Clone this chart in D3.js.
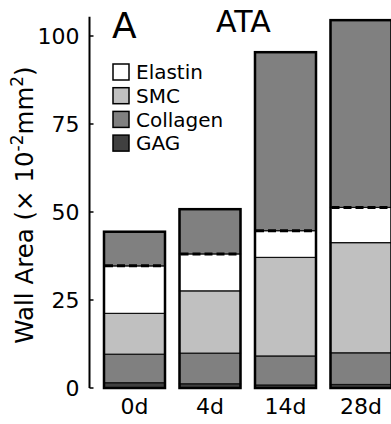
<!DOCTYPE html>
<html>
<head>
<meta charset="utf-8">
<script src="https://cdn.jsdelivr.net/npm/d3@7"></script>
<style>
	body { margin: 0; background: #fff; }
	svg { font-family: "DejaVu Sans", sans-serif; }
</style>
</head>
<body>
<svg id="chart" width="391" height="424"></svg>
<script>
// values (10^-2 mm^2)
const days = ["0d", "4d", "14d", "28d"];
const gag = [1.5, 1.2, 0.85, 1.0];
const collagenMedia = [8.1, 8.7, 8.25, 9.0];
const smc = [11.6, 17.7, 28.0, 31.3];
const elastin = [13.5, 10.5, 7.6, 10.0];
const collagenAdv = [9.7, 12.7, 50.7, 53.2];
const yTicks = [0, 25, 50, 75, 100];

const legendItems = [
	{ name: "Elastin", color: "#ffffff" },
	{ name: "SMC", color: "#c0c0c0" },
	{ name: "Collagen", color: "#808080" },
	{ name: "GAG", color: "#404040" },
];

const layerKeys = ["gag", "colM", "smc", "ela", "colA"];
const layerColor = {
	gag: "#404040",
	colM: "#808080",
	smc: "#c0c0c0",
	ela: "#ffffff",
	colA: "#808080",
};

let rows = days.map((d, i) => ({
	day: d,
	gag: gag[i],
	colM: collagenMedia[i],
	smc: smc[i],
	ela: elastin[i],
	colA: collagenAdv[i],
}));

const svg = d3.select("#chart");

let y = d3.scaleLinear().domain([0, 100]).range([388, 36]);
let x = d3
	.scaleBand()
	.domain(days)
	.range([96.75, 398.75])
	.paddingInner(0.192)
	.paddingOuter(0.096);

let series = d3.stack().keys(layerKeys)(rows);

// segments
series.forEach(function (s) {
	svg.append("g")
		.selectAll("rect")
		.data(s)
		.enter()
		.append("rect")
		.attr("x", (d) => x(d.data.day))
		.attr("y", (d) => y(d[1]))
		.attr("width", x.bandwidth())
		.attr("height", (d) => y(d[0]) - y(d[1]))
		.attr("fill", layerColor[s.key])
		.attr("stroke", "#111")
		.attr("stroke-width", 1.2);
});

// dashed line between elastin and adventitial collagen
let elaSeries = series.find((s) => s.key === "ela");
svg.append("g")
	.selectAll("line")
	.data(elaSeries)
	.enter()
	.append("line")
	.attr("x1", (d) => x(d.data.day) + 1)
	.attr("x2", (d) => x(d.data.day) + x.bandwidth() - 1)
	.attr("y1", (d) => y(d[1]))
	.attr("y2", (d) => y(d[1]))
	.attr("stroke", "#000")
	.attr("stroke-width", 3)
	.attr("stroke-dasharray", "8,4");

// bar outlines
let topSeries = series[series.length - 1];
svg.append("g")
	.selectAll("rect")
	.data(topSeries)
	.enter()
	.append("rect")
	.attr("x", (d) => x(d.data.day))
	.attr("y", (d) => y(d[1]))
	.attr("width", x.bandwidth())
	.attr("height", (d) => y(0) - y(d[1]))
	.attr("fill", "none")
	.attr("stroke", "#000")
	.attr("stroke-width", 2.5);

// y axis
let yAxis = svg.append("g").attr("transform", "translate(89.5,0)");
yAxis.append("line")
	.attr("x1", 0).attr("x2", 0)
	.attr("y1", y(105.5)).attr("y2", y(0))
	.attr("stroke", "#000").attr("stroke-width", 2);
yAxis.selectAll(".tick")
	.data(yTicks)
	.enter()
	.append("line")
	.attr("x1", 0).attr("x2", 4)
	.attr("y1", (d) => y(d)).attr("y2", (d) => y(d))
	.attr("stroke", "#000").attr("stroke-width", 1.5);
yAxis.selectAll("text")
	.data(yTicks)
	.enter()
	.append("text")
	.attr("x", -10)
	.attr("y", (d) => y(d))
	.attr("dy", "0.36em")
	.attr("text-anchor", "end")
	.attr("font-size", 22)
	.text((d) => d);

// x labels
svg.append("g")
	.selectAll("text")
	.data(days)
	.enter()
	.append("text")
	.attr("x", (d) => x(d) + x.bandwidth() / 2)
	.attr("y", 414)
	.attr("text-anchor", "middle")
	.attr("font-size", 22)
	.text((d) => d);

// y label
let yl = svg.append("text")
	.attr("transform", "translate(33,205) rotate(-90)")
	.attr("text-anchor", "middle")
	.attr("font-size", 24.5);
yl.append("tspan").text("Wall Area (\u00d7 10");
yl.append("tspan").attr("baseline-shift", "super").attr("font-size", 17).text("-2");
yl.append("tspan").text("mm");
yl.append("tspan").attr("baseline-shift", "super").attr("font-size", 17).text("2");
yl.append("tspan").text(")");

// titles
svg.append("text").attr("x", 112).attr("y", 38).attr("font-size", 36).text("A");
svg.append("text").attr("x", 216).attr("y", 32).attr("font-size", 30).text("ATA");

// legend
let legend = svg.append("g").attr("transform", "translate(113,64)");
let li = legend.selectAll("g")
	.data(legendItems)
	.enter()
	.append("g")
	.attr("transform", (d, i) => `translate(0,${i * 23.7})`);
li.append("rect")
	.attr("width", 16).attr("height", 16)
	.attr("fill", (d) => d.color)
	.attr("stroke", "#000").attr("stroke-width", 1.5);
li.append("text")
	.attr("x", 23).attr("y", 8)
	.attr("dy", "0.36em")
	.attr("font-size", 20)
	.text((d) => d.name);
</script>
</body>
</html>
